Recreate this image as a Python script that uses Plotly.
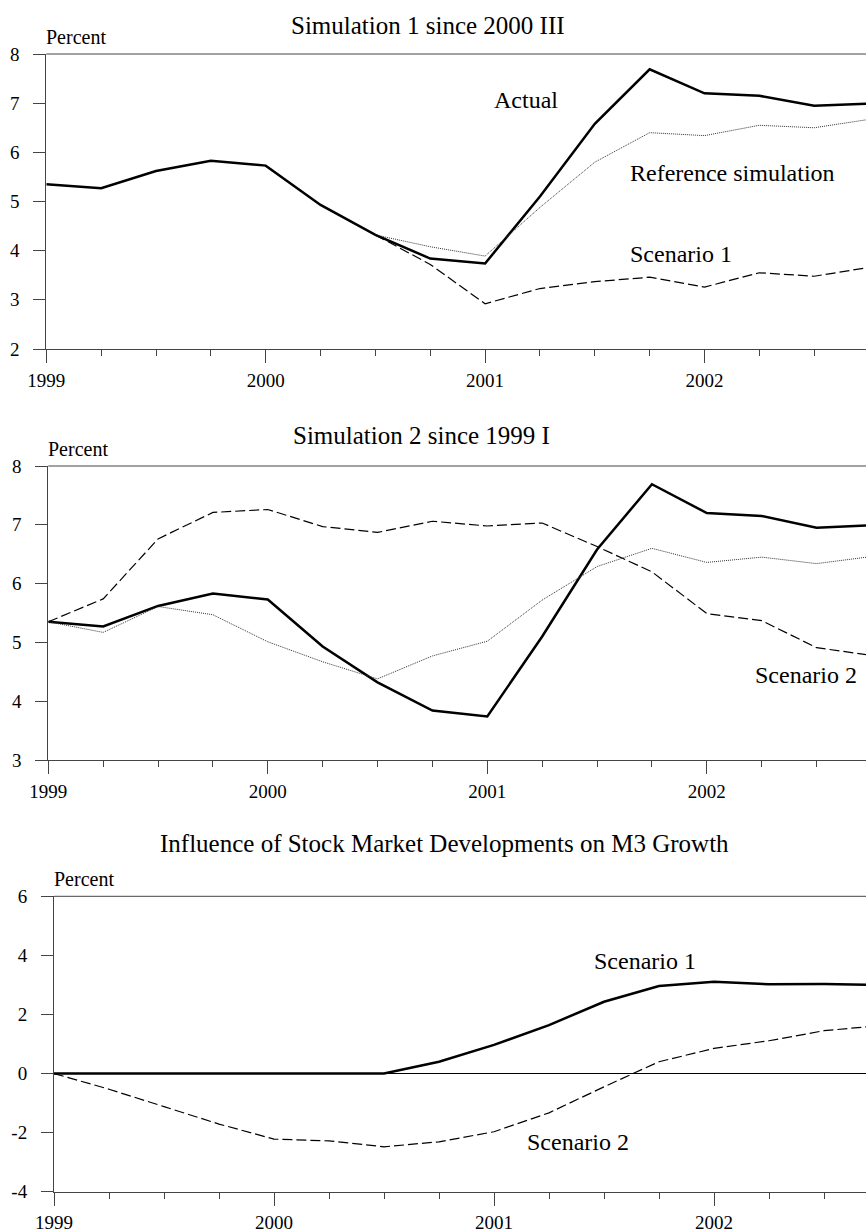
import plotly.graph_objects as go

FONT = "Liberation Serif"

quarters = [1999.0, 1999.25, 1999.5, 1999.75, 2000.0, 2000.25, 2000.5, 2000.75,
            2001.0, 2001.25, 2001.5, 2001.75, 2002.0, 2002.25, 2002.5, 2002.75]
sim_quarters = quarters[6:]

actual = [5.35, 5.27, 5.62, 5.83, 5.73, 4.93, 4.32, 3.84,
          3.74, 5.10, 6.58, 7.69, 7.20, 7.15, 6.95, 6.99]
ref_sim1 = [4.32, 4.08, 3.89, 4.88, 5.80, 6.40, 6.34, 6.55, 6.50, 6.67]
scen1_sim1 = [4.32, 3.72, 2.92, 3.23, 3.37, 3.46, 3.26, 3.55, 3.48, 3.66]
ref_sim2 = [5.35, 5.17, 5.61, 5.47, 5.01, 4.67, 4.38, 4.77,
            5.02, 5.72, 6.29, 6.60, 6.36, 6.45, 6.34, 6.46]
scen2_sim2 = [5.35, 5.74, 6.76, 7.21, 7.26, 6.97, 6.87, 7.06,
              6.98, 7.03, 6.63, 6.20, 5.49, 5.37, 4.91, 4.78]
infl_scen1 = [0, 0, 0, 0, 0, 0, 0, 0.40,
              0.97, 1.64, 2.43, 2.96, 3.11, 3.02, 3.03, 3.00]
infl_scen2 = [0, -0.53, -1.12, -1.71, -2.22, -2.28, -2.48, -2.31,
              -1.97, -1.33, -0.45, 0.40, 0.85, 1.11, 1.45, 1.62]

year_ticks = [1999, 2000, 2001, 2002]
year_labels = ["1999", "2000", "2001", "2002"]
y1_ticks = [2, 3, 4, 5, 6, 7, 8]
y2_ticks = [3, 4, 5, 6, 7, 8]
y3_ticks = [-4, -2, 0, 2, 4, 6]

titles = ["Simulation 1 since 2000 III", "Simulation 2 since 1999 I",
          "Influence of Stock Market Developments on M3 Growth"]

W, H = 866, 1231


def px(x):
    return x / W


def py(y):
    return 1 - y / H


panels = [
    dict(left=46.3, top=54.0, bottom=349.0, xend=1999 + (W - 46.3) / 219.4, yr=[2, 8], yt=y1_ticks, so=1),
    dict(left=48.3, top=466.0, bottom=760.0, xend=1999 + (W - 48.3) / 219.5, yr=[3, 8], yt=y2_ticks, so=1),
    dict(left=54.0, top=896.3, bottom=1191.7, xend=1999 + (W - 54.0) / 220.0, yr=[-4, 6], yt=y3_ticks, so=0),
]

fig = go.Figure()

solid = dict(color="black", width=2.5)
dashed = dict(color="black", width=1.2, dash="10px,4px")
dotted = dict(color="#333333", width=1, dash="1px,1px")

traces = [
    (1, quarters, actual, solid),
    (1, sim_quarters, ref_sim1, dotted),
    (1, sim_quarters, scen1_sim1, dashed),
    (2, quarters, actual, solid),
    (2, quarters, ref_sim2, dotted),
    (2, quarters, scen2_sim2, dashed),
    (3, quarters, infl_scen1, solid),
    (3, quarters, infl_scen2, dashed),
]
for p, x, y, ln in traces:
    suffix = "" if p == 1 else str(p)
    fig.add_trace(go.Scatter(x=x, y=y, mode="lines", line=ln,
                             xaxis="x" + suffix, yaxis="y" + suffix,
                             showlegend=False, hoverinfo="skip"))

layout = dict(
    width=W, height=H, autosize=False,
    margin=dict(l=0, r=0, t=0, b=0, pad=0, autoexpand=False),
    paper_bgcolor="white", plot_bgcolor="white",
    font=dict(family=FONT, color="black", size=19),
    showlegend=False,
)
axis_color = "#444444"
shapes = []
annotations = []
for i, pn in enumerate(panels):
    suffix = "" if i == 0 else str(i + 1)
    xd = [px(pn["left"]), 1.0]
    yd = [py(pn["bottom"]), py(pn["top"])]
    layout["xaxis" + suffix] = dict(
        domain=xd, range=[1999, pn["xend"]], anchor="y" + suffix,
        tickvals=year_ticks, ticktext=year_labels, automargin=False,
        ticks="outside", ticklen=13, tickwidth=1, tickcolor=axis_color,
        minor=dict(dtick=0.25, tick0=1999, ticks="outside", ticklen=6,
                   tickwidth=1, tickcolor=axis_color),
        showline=True, linecolor=axis_color, linewidth=1,
        showgrid=False, zeroline=False,
        tickfont=dict(family=FONT, size=19, color="black"),
        ticklabelstandoff=pn["so"],
    )
    layout["yaxis" + suffix] = dict(
        domain=yd, range=pn["yr"], anchor="x" + suffix, automargin=False,
        tickvals=pn["yt"], ticktext=[str(v) for v in pn["yt"]],
        ticks="outside", ticklen=12, tickwidth=1, tickcolor=axis_color,
        showline=True, linecolor=axis_color, linewidth=1,
        showgrid=False,
        zeroline=(i == 2), zerolinecolor="black", zerolinewidth=1,
        tickfont=dict(family=FONT, size=19, color="black"),
        ticklabelstandoff=10,
    )
    shapes.append(dict(type="line", xref="x" + suffix + " domain", yref="y" + suffix + " domain",
                       x0=0, x1=1, y0=1, y1=1, line=dict(color=axis_color, width=1)))
    annotations.append(dict(text="Percent", xref="paper", yref="paper",
                            x=px(pn["left"] - 2), y=py(pn["top"] - 4),
                            xanchor="left", yanchor="bottom", showarrow=False,
                            font=dict(family=FONT, size=20, color="black")))

title_pos = [(428, 26), (421, 435), (444, 843)]
for t, (cx, cy) in zip(titles, title_pos):
    annotations.append(dict(text=t, xref="paper", yref="paper", x=px(cx), y=py(cy),
                            xanchor="center", yanchor="middle", showarrow=False,
                            font=dict(family=FONT, size=25, color="black")))

labels = [
    ("Actual", 526, 100),
    ("Reference simulation", 732, 173),
    ("Scenario 1", 681, 254),
    ("Scenario 2", 806, 675),
    ("Scenario 1", 645, 961),
    ("Scenario 2", 578, 1142),
]
for t, cx, cy in labels:
    annotations.append(dict(text=t, xref="paper", yref="paper", x=px(cx), y=py(cy),
                            xanchor="center", yanchor="middle", showarrow=False,
                            font=dict(family=FONT, size=24, color="black")))

layout["shapes"] = shapes
layout["annotations"] = annotations
fig.update_layout(**layout)

# place the figure flush with the window corner (no default page margin / scrollbars)
page_css = ("document.body.style.margin='0';document.body.style.padding='0';"
            "document.body.style.overflow='hidden';"
            "document.documentElement.style.overflow='hidden';")
fig.write_html("out.html", post_script=page_css,
               config={"displayModeBar": False, "staticPlot": True})
